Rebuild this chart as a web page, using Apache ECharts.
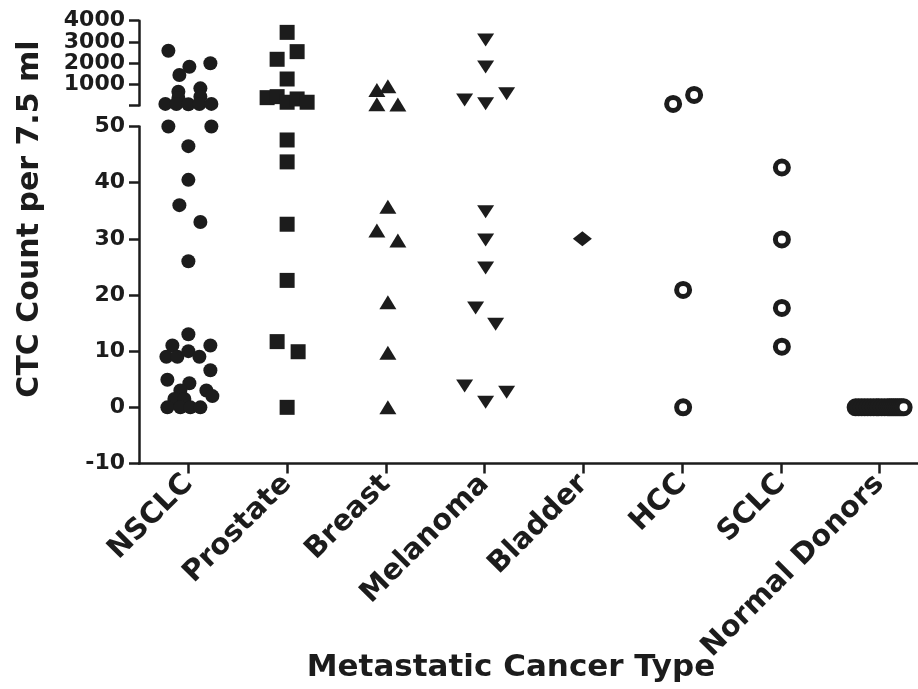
<!DOCTYPE html>
<html>
<head>
<meta charset="utf-8">
<script src="https://cdn.jsdelivr.net/npm/echarts@6/dist/echarts.min.js"></script>
<style>
  html, body { margin: 0; padding: 0; background: #fff; }
  #chart { width: 918px; height: 689px; }
</style>
</head>
<body>
<div id="chart"></div>
<script>
// ---- Data ----
const categories = ['NSCLC', 'Prostate', 'Breast', 'Melanoma', 'Bladder', 'HCC', 'SCLC', 'Normal Donors'];

// CTC counts per 7.5 ml for each patient (values > 50 are on the upper broken-axis segment)
const nsclcCounts    = [2585, 1990, 1830, 1440, 810, 650, 418, 356, 75, 70, 60, 70, 75,
                        50, 50, 46.5, 40.5, 36, 33, 26, 13, 11, 11, 9, 9, 10, 9, 6.6, 4.9, 4.3, 3, 3, 2, 1.5, 1.5, 0, 0, 0, 0];
const prostateCounts = [3450, 2540, 2180, 1250, 370, 418, 154, 309, 154,
                        47.6, 43.7, 32.6, 22.6, 11.7, 9.9, 0];
const breastCounts   = [733, 908, 60, 52,
                        35.7, 31.5, 29.7, 18.7, 9.7, 0];
const melanomaCounts = [3090, 1817, 262, 88, 559,
                        34.8, 29.8, 24.8, 17.7, 14.8, 3.8, 0.9, 2.7];
const bladderCounts  = [30];
const hccCounts      = [74, 498, 20.9, 0];
const sclcCounts     = [42.7, 29.9, 17.7, 10.8];
const donorCounts    = [0, 0, 0, 0, 0, 0, 0, 0, 0, 0, 0, 0, 0, 0, 0, 0, 0, 0, 0, 0];

// horizontal scatter (jitter) of each dot, in pixels from its category centre
const nsclcJitter    = [-20, 22, 1, -9, 12, -10, 12, -10, -23, -12, 0, 11, 23,
                        -20, 23, 0, 0, -9, 12, 0, 0, -16, 22, -22, -11, 0, 11, 22, -21, 1, -8, 18, 24, -14, -4, -21, -8, 2, 12];
const prostateJitter = [0, 10, -10, 0, -20, -10, 0, 10, 20,
                        0, 0, 0, 0, -10, 11, 0];
const breastJitter   = [-9, 2, -9, 12,
                        2, -9, 12, 2, 2, 2];
const melanomaJitter = [1, 1, -20, 1, 22,
                        1, 1, 1, -9, 11, -20, 1, 22];
const bladderJitter  = [-1];
const hccJitter      = [-9, 12, 1, 1];
const sclcJitter     = [1, 1, 1, 1];
const donorJitter    = [-24, -21, -18, -15, -12, -9, -6, -3, -1, 2, 5, 8, 10, 12, 14, 16, 18, 20, 22, 24];

// upper segment runs from the break (0 baseline, unlabeled) to 4000 in steps of 1000
const topTickStep = 1000;
const topTickMax  = 4000;
const topLabelsA  = [2000, 4000];   // drawn by the main upper axis
const topLabelsB  = [1000, 3000];   // drawn by a companion label-only axis (avoids auto-hiding)

const allCounts = [nsclcCounts, prostateCounts, breastCounts, melanomaCounts, bladderCounts, hccCounts, sclcCounts, donorCounts];
const allJitter = [nsclcJitter, prostateJitter, breastJitter, melanomaJitter, bladderJitter, hccJitter, sclcJitter, donorJitter];

// ---- Styles ----
const INK = '#1c1c1c';
const FONT = '"DejaVu Sans", "Liberation Sans", Arial, sans-serif';
const markerStyles = [
  { symbol: 'circle',   size: 14,       rotate: 0,   open: false },
  { symbol: 'rect',     size: 15,       rotate: 0,   open: false },
  { symbol: 'triangle', size: [17, 14], rotate: 0,   open: false },
  { symbol: 'triangle', size: [17, 13], rotate: 180, open: false },
  { symbol: 'diamond',  size: [19, 15], rotate: 0,   open: false },
  { symbol: 'circle',   size: 13,       rotate: 0,   open: true  },
  { symbol: 'circle',   size: 13,       rotate: 0,   open: true  },
  { symbol: 'circle',   size: 13,       rotate: 0,   open: true  }
];

const series = [];
categories.forEach((cat, i) => {
  const top = [], bottom = [];
  allCounts[i].forEach((v, k) => {
    const item = { value: [i, v], symbolOffset: [allJitter[i][k], 0] };
    (v > 50 ? top : bottom).push(item);
  });
  const m = markerStyles[i];
  const itemStyle = m.open
    ? { color: '#ffffff', borderColor: INK, borderWidth: 5, opacity: 1 }
    : { color: INK, opacity: 1 };
  [[top, 0], [bottom, 1]].forEach(([data, g]) => {
    series.push({
      type: 'scatter', name: cat, xAxisIndex: g, yAxisIndex: g,
      data: data, symbol: m.symbol, symbolSize: m.size, symbolRotate: m.rotate,
      itemStyle: itemStyle, clip: false, silent: true, z: 3
    });
  });
});

const axisLineStyle = { color: INK, width: 2.5 };
const gridLeft = 139, gridWidth = 790;
const tickLabelStyle = {
  show: true, margin: 14, color: INK, fontFamily: FONT, fontWeight: 'bold', fontSize: 22,
  hideOverlap: false, showMinLabel: true, showMaxLabel: true
};

const option = {
  animation: false,
  backgroundColor: '#ffffff',
  grid: [
    { left: gridLeft, width: gridWidth, top: 20.7, height: 84.8, outerBoundsMode: 'none', containLabel: false },
    { left: gridLeft, width: gridWidth, top: 126.5, height: 337, outerBoundsMode: 'none', containLabel: false }
  ],
  xAxis: [
    { type: 'category', gridIndex: 0, data: categories, show: false, boundaryGap: true },
    {
      type: 'category', gridIndex: 1, data: categories, boundaryGap: true,
      axisLine: { show: true, onZero: false, lineStyle: axisLineStyle },
      axisTick: { show: true, alignWithLabel: true, interval: 0, length: 10, lineStyle: { color: INK, width: 2.5 } },
      axisLabel: { rotate: 45, margin: 16, color: INK, fontFamily: FONT, fontWeight: 'bold', fontSize: 29, interval: 0 },
      splitLine: { show: false }
    }
  ],
  yAxis: [
    {
      type: 'value', gridIndex: 0, min: 0, max: topTickMax, interval: topTickStep,
      axisLine: { show: true, lineStyle: axisLineStyle },
      axisTick: { show: true, length: 10, lineStyle: { color: INK, width: 2.5 } },
      axisLabel: Object.assign({}, tickLabelStyle, { formatter: v => (topLabelsA.includes(v) ? String(v) : '') }),
      splitLine: { show: false }
    },
    {
      type: 'value', gridIndex: 1, min: -10, max: 50, interval: 10,
      axisLine: { show: true, lineStyle: axisLineStyle },
      axisTick: { show: true, length: 10, lineStyle: { color: INK, width: 2.5 } },
      axisLabel: Object.assign({}, tickLabelStyle, { formatter: v => String(v) }),
      splitLine: { show: false }
    },
    {
      type: 'value', gridIndex: 0, min: 0, max: topTickMax, interval: topTickStep, position: 'left',
      axisLine: { show: false }, axisTick: { show: false }, splitLine: { show: false },
      axisLabel: Object.assign({}, tickLabelStyle, { formatter: v => (topLabelsB.includes(v) ? String(v) : '') })
    }
  ],
  graphic: [
    {
      type: 'text', x: 30, y: 219, rotation: Math.PI / 2,
      style: { text: 'CTC Count per 7.5 ml', font: 'bold 30px ' + FONT, fill: INK,
               align: 'center', verticalAlign: 'middle', textAlign: 'center', textVerticalAlign: 'middle' }
    },
    {
      type: 'text', x: 511, y: 668,
      style: { text: 'Metastatic Cancer Type', font: 'bold 31px ' + FONT, fill: INK,
               align: 'center', verticalAlign: 'middle', textAlign: 'center', textVerticalAlign: 'middle' }
    }
  ],
  series: series
};

const chart = echarts.init(document.getElementById('chart'), null, { renderer: 'canvas' });
chart.setOption(option);
</script>
</body>
</html>
